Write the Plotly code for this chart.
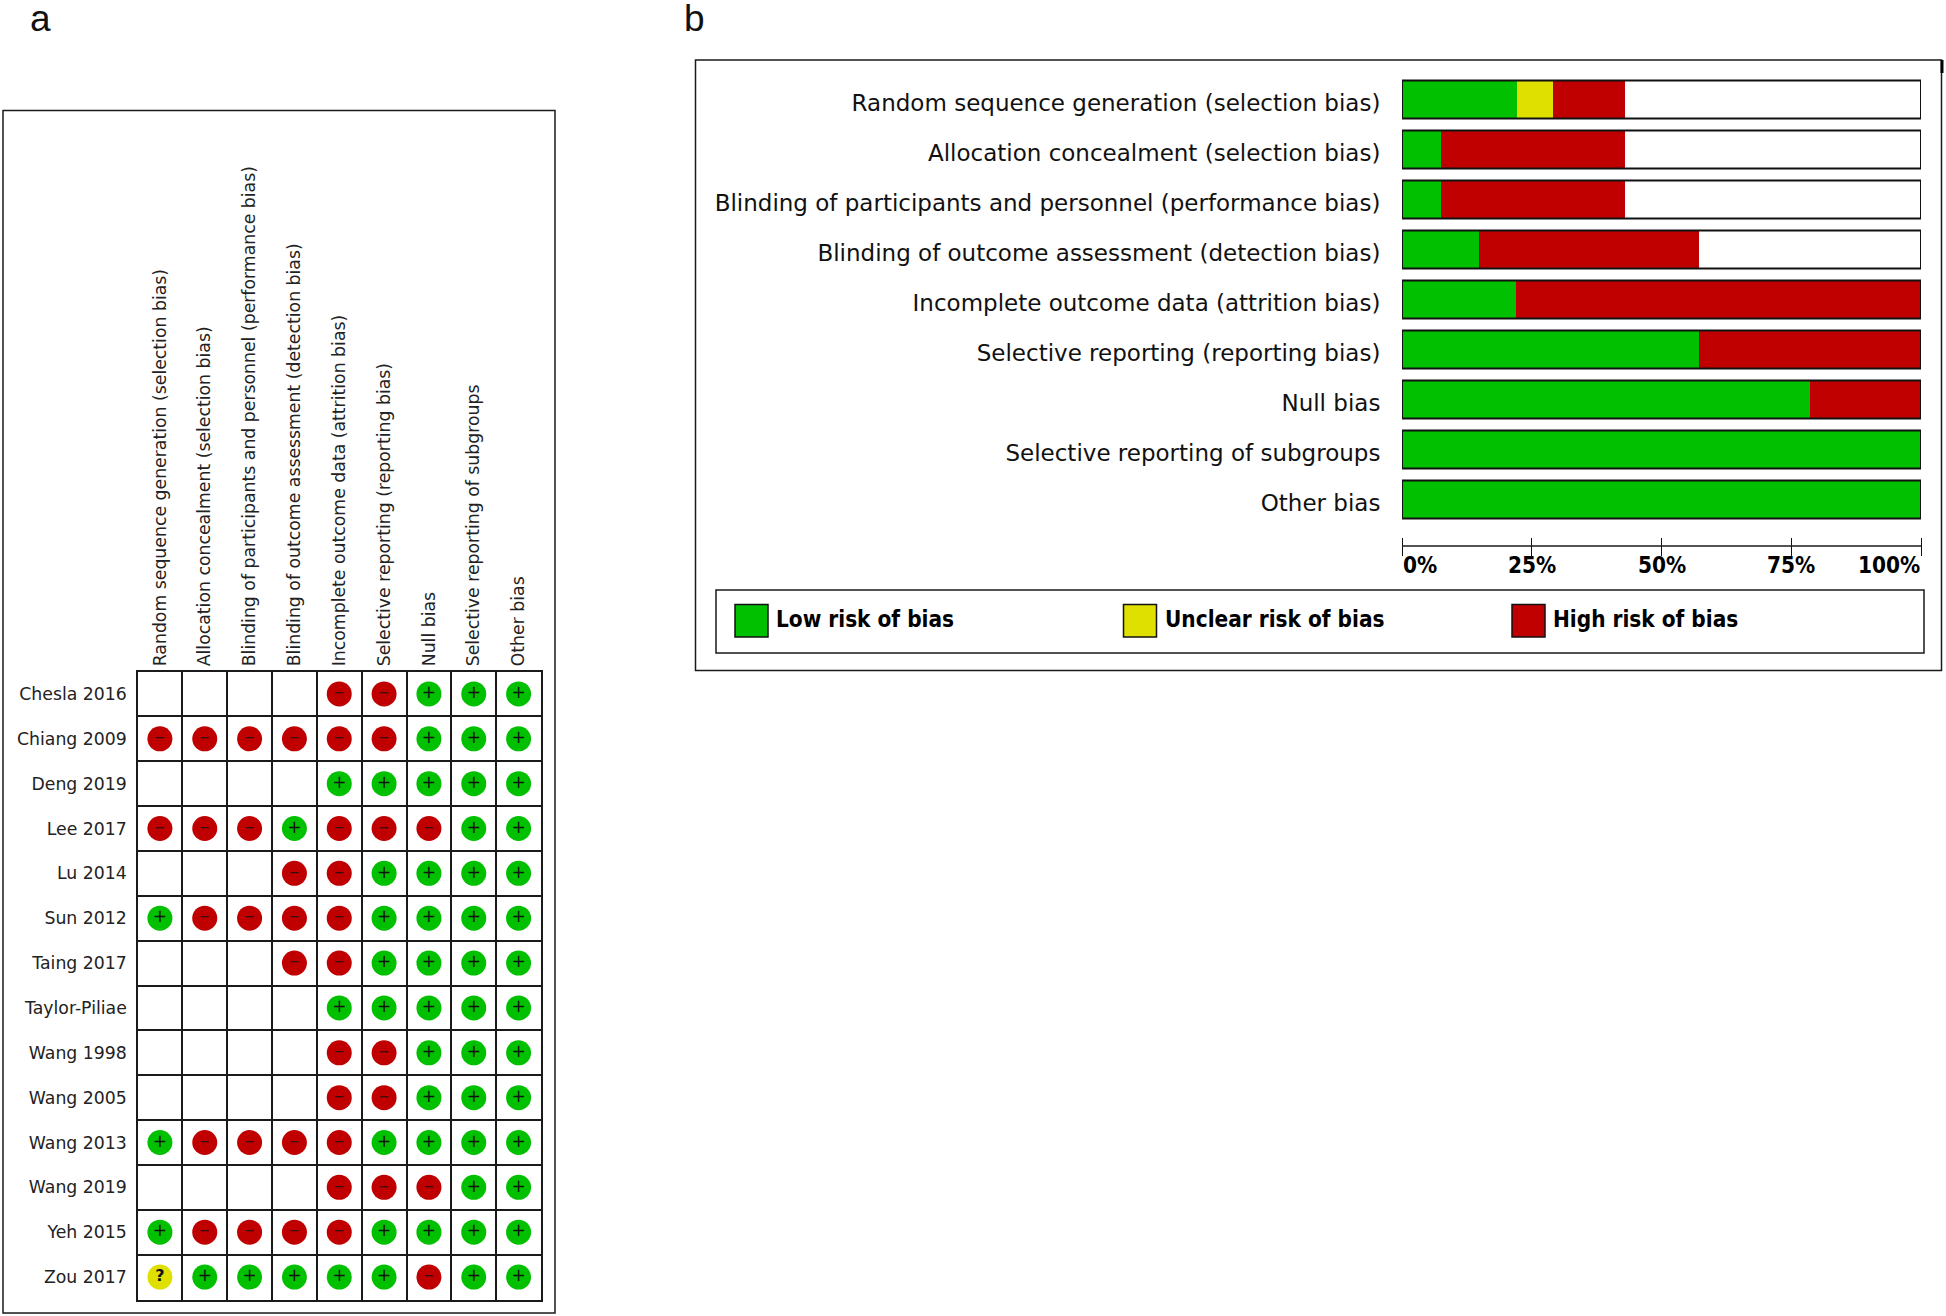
import plotly.graph_objects as go

W, H = 1946, 1316

# ---------- data: panel a ----------
domains_a = [
    "Random sequence generation (selection bias)",
    "Allocation concealment (selection bias)",
    "Blinding of participants and personnel (performance bias)",
    "Blinding of outcome assessment (detection bias)",
    "Incomplete outcome data (attrition bias)",
    "Selective reporting (reporting bias)",
    "Null bias",
    "Selective reporting of subgroups",
    "Other bias",
]
studies = ["Chesla 2016", "Chiang 2009", "Deng 2019", "Lee 2017", "Lu 2014", "Sun 2012", "Taing 2017",
           "Taylor-Piliae", "Wang 1998", "Wang 2005", "Wang 2013", "Wang 2019", "Yeh 2015", "Zou 2017"]
judgements = [
    ["", "", "", "", "-", "-", "+", "+", "+"],
    ["-", "-", "-", "-", "-", "-", "+", "+", "+"],
    ["", "", "", "", "+", "+", "+", "+", "+"],
    ["-", "-", "-", "+", "-", "-", "-", "+", "+"],
    ["", "", "", "-", "-", "+", "+", "+", "+"],
    ["+", "-", "-", "-", "-", "+", "+", "+", "+"],
    ["", "", "", "-", "-", "+", "+", "+", "+"],
    ["", "", "", "", "+", "+", "+", "+", "+"],
    ["", "", "", "", "-", "-", "+", "+", "+"],
    ["", "", "", "", "-", "-", "+", "+", "+"],
    ["+", "-", "-", "-", "-", "+", "+", "+", "+"],
    ["", "", "", "", "-", "-", "-", "+", "+"],
    ["+", "-", "-", "-", "-", "+", "+", "+", "+"],
    ["?", "+", "+", "+", "+", "+", "-", "+", "+"],
]

# ---------- data: panel b ----------
low_pct = [22.1, 7.5, 7.5, 14.8, 21.9, 57.3, 78.6, 100, 100]
unclear_pct = [7.0, 0, 0, 0, 0, 0, 0, 0, 0]
high_pct = [13.8, 35.4, 35.4, 42.5, 78.1, 42.7, 21.4, 0, 0]
frame_pct = [100] * 9
tick_vals = [0, 25, 50, 75, 100]
tick_labels = ["0%", "25%", "50%", "75%", "100%"]
tick_anchor = ["left", "center", "center", "center", "right"]
legend_names = ["Low risk of bias", "Unclear risk of bias", "High risk of bias"]

GREEN, YELLOW, RED = "#00C000", "#E0E000", "#C00000"
INK = "#1a1a1a"
GAP = "\u00a0"


def px(x):
    return x / W


def py(y):
    return 1 - y / H


fig = go.Figure()

# panel a marks
styles = {
    "+": (GREEN, "+", "Low", 17, "normal"),
    "-": (RED, "−", "High", 13, "normal"),
    "?": (YELLOW, "?", "Unclear", 16, "bold"),
}
for key, (col, sym, name, tsize, tweight) in styles.items():
    xs, ys = [], []
    for s, row in zip(studies, judgements):
        for d, v in zip(domains_a, row):
            if v == key:
                xs.append(d)
                ys.append(s)
    fig.add_trace(go.Scatter(
        x=xs, y=ys, mode="markers+text", name=name, showlegend=False,
        marker=dict(size=25, color=col, line=dict(width=0)),
        text=[sym] * len(xs), textposition="middle center",
        textfont=dict(family="DejaVu Sans", size=tsize, color="#111", weight=tweight),
        xaxis="x", yaxis="y", cliponaxis=False,
    ))

# panel b marks
base_unclear = list(low_pct)
base_high = [a + b for a, b in zip(low_pct, unclear_pct)]
for vals, base, col, name in [
    (low_pct, [0] * 9, GREEN, legend_names[0]),
    (unclear_pct, base_unclear, YELLOW, legend_names[1]),
    (high_pct, base_high, RED, legend_names[2]),
]:
    fig.add_trace(go.Bar(
        y=domains_a, x=vals, base=base, orientation="h", name=name, showlegend=False,
        marker=dict(color=col, line=dict(width=0)), width=0.75, xaxis="x2", yaxis="y2",
    ))
fig.add_trace(go.Bar(
    y=domains_a, x=frame_pct, base=[0] * 9, orientation="h", showlegend=False, name="frame",
    marker=dict(color="rgba(0,0,0,0)", line=dict(width=2, color="#111")),
    width=0.75, xaxis="x2", yaxis="y2",
))

shapes = []


def box(x0, y0, x1, y1, width=1.5, color=INK):
    shapes.append(dict(type="rect", xref="paper", yref="paper", x0=px(x0), x1=px(x1), y0=py(y0), y1=py(y1),
                       line=dict(color=color, width=width), fillcolor="rgba(0,0,0,0)", layer="below"))


box(3, 110.5, 555, 1313)
box(695.5, 60, 1941.5, 670.5)
box(716, 590, 1924, 653)
# small notch at the top right corner of panel b
shapes.append(dict(type="line", xref="paper", yref="paper", x0=px(1942), x1=px(1942), y0=py(60), y1=py(73),
                   line=dict(color="#000", width=3)))
# axis line of panel b
shapes.append(dict(type="line", xref="x2", yref="paper", x0=tick_vals[0], x1=tick_vals[-1], y0=py(546), y1=py(546),
                   line=dict(color=INK, width=1.5)))

annotations = []
BOLD = dict(family="DejaVu Sans Condensed, DejaVu Sans", size=22.4, color="#000", weight="bold")
for v, t, a in zip(tick_vals, tick_labels, tick_anchor):
    annotations.append(dict(x=v, xref="x2", y=py(565), yref="paper", text=t, showarrow=False, xanchor=a,
                            yanchor="middle", borderpad=0, font=BOLD))

for name, col, x0 in zip(legend_names, [GREEN, YELLOW, RED], [735, 1123.5, 1512]):
    shapes.append(dict(type="rect", xref="paper", yref="paper", x0=px(x0), x1=px(x0 + 33), y0=py(604.5), y1=py(637),
                       fillcolor=col, line=dict(color="#111", width=1.5)))
    annotations.append(dict(x=px(x0 + 40), xref="paper", y=py(619), yref="paper", text=name, showarrow=False,
                            xanchor="left", yanchor="middle", borderpad=0, font=BOLD))

for letter, x in [("a", 29), ("b", 683)]:
    annotations.append(dict(x=px(x), xref="paper", y=1, yref="paper", text=letter, showarrow=False,
                            xanchor="left", yanchor="top", borderpad=0, height=34, valign="middle",
                            font=dict(family="Liberation Sans", size=37, color="#111")))

fig.update_layout(
    width=W, height=H, autosize=False, margin=dict(l=0, r=0, t=0, b=0),
    paper_bgcolor="white", plot_bgcolor="white", barmode="overlay", bargap=0,
    shapes=shapes, annotations=annotations, showlegend=False,
    xaxis=dict(
        domain=[px(137.5), px(541)], type="category", categoryorder="array", categoryarray=domains_a,
        tickvals=domains_a, ticktext=[d + GAP for d in domains_a], range=[-0.5, 8.5], side="top", anchor="y",
        tickangle=-90, tickson="boundaries", ticks="outside", ticklen=4, tickcolor="rgba(0,0,0,0)",
        showgrid=True, gridcolor=INK, gridwidth=1.5, showline=True, linecolor=INK, linewidth=1.5, mirror=True,
        tickfont=dict(family="DejaVu Sans", size=17.3, color="#222"), zeroline=False,
    ),
    yaxis=dict(
        domain=[py(1299.5), py(671.5)], type="category", categoryorder="array", categoryarray=studies,
        tickvals=studies, ticktext=[s + GAP for s in studies], range=[13.5, -0.5], anchor="x",
        tickson="boundaries", ticks="outside", ticklen=4, tickcolor="rgba(0,0,0,0)",
        showgrid=True, gridcolor=INK, gridwidth=1.5, showline=True, linecolor=INK, linewidth=1.5, mirror=True,
        tickfont=dict(family="DejaVu Sans", size=17.3, color="#222"), zeroline=False,
    ),
    xaxis2=dict(
        domain=[px(1402), px(1921)], range=[0, 100], anchor="free", position=py(537), side="bottom",
        tickmode="array", tickvals=tick_vals, ticks="outside", ticklen=18, tickwidth=1, tickcolor="#111",
        showticklabels=False, showgrid=False, zeroline=False, showline=False,
    ),
    yaxis2=dict(
        domain=[py(524.5), py(74.5)], type="category", categoryorder="array", categoryarray=domains_a,
        tickvals=domains_a, ticktext=domains_a, range=[8.5, -0.5], anchor="x2",
        ticks="outside", ticklen=16, tickcolor="rgba(0,0,0,0)", showgrid=False, zeroline=False, showline=False,
        tickfont=dict(family="DejaVu Sans", size=23, color="#111"), ticklabelshift=-3,
    ),
)

fig.write_html("out.html", config={"displayModeBar": False}, post_script="document.body.style.margin='0';")
